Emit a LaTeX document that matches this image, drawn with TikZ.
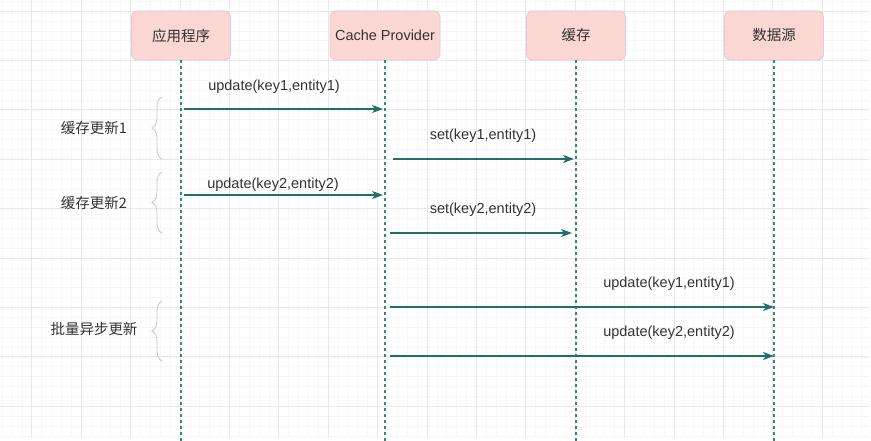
\documentclass[tikz,border=0pt]{standalone}
\usepackage{fontspec}
\setmainfont{Liberation Sans}
\newfontfamily\cjk{Noto Sans CJK SC}
\usetikzlibrary{arrows.meta,decorations.pathreplacing}
\definecolor{arrowc}{HTML}{1F6F6B}
\definecolor{lifec}{HTML}{3A857C}
\definecolor{boxfill}{HTML}{FAD7D3}
\definecolor{boxdraw}{HTML}{E0C8D8}
\definecolor{txt}{HTML}{333333}
\definecolor{bracec}{HTML}{C9C9D6}
\definecolor{majorg}{HTML}{E8E8E8}
\definecolor{minorg}{HTML}{F6F6F6}
\tikzset{
  actor/.style={draw=boxdraw, fill=boxfill, rounded corners=6pt, line width=0.8pt,
    minimum width=99pt, minimum height=49pt, inner sep=0pt, text=txt,
    font=\fontsize{14.5}{17}\selectfont},
  life/.style={draw=lifec, line width=1.6pt, dash pattern=on 3pt off 3pt},
  msg/.style={draw=arrowc, line width=1.3pt, -{Stealth[length=11pt,width=8pt,inset=3pt]}},
  lbl/.style={text=txt, inner sep=0pt, font=\fontsize{14.5}{17}\selectfont},
  grplbl/.style={text=txt, inner sep=0pt, font=\fontsize{14.5}{17}\selectfont\cjk},
  grpbrace/.style={draw=bracec, line width=0.9pt, decorate,
    decoration={brace, amplitude=10pt, aspect=0.5}},
  minorgrid/.style={draw=minorg, line width=0.5pt},
  majorgrid/.style={draw=majorg, line width=0.8pt}
}
\begin{document}
\begin{tikzpicture}[x=1pt,y=-1pt]
\useasboundingbox (0,0) rectangle (871,441);
\fill[white] (0,0) rectangle (871,441);
% grid
\foreach \k in {0,...,87} {\draw[minorgrid] ({2.06+\k*9.88},0) -- ({2.06+\k*9.88},437);}
\foreach \k in {0,...,44} {\draw[minorgrid] (0,{1.12+\k*9.88}) -- (869,{1.12+\k*9.88});}
\foreach \k in {0,...,17} {\draw[majorgrid] ({31.7+\k*49.4},0) -- ({31.7+\k*49.4},437);}
\foreach \k in {0,...,8} {\draw[majorgrid] (0,{11+\k*49.4}) -- (869,{11+\k*49.4});}

% actors
\node[actor] (app) at (181,35.5) {\cjk 应用程序};
\node[actor, minimum width=110pt] (cp) at (385,35.5) {Cache Provider};
\node[actor] (cache) at (576,35.5) {\cjk 缓存};
\node[actor] (ds) at (774,35.5) {\cjk 数据源};

% lifeline ends
\coordinate (appEnd) at (181,441);
\coordinate (cpEnd) at (385,441);
\coordinate (cacheEnd) at (576,441);
\coordinate (dsEnd) at (774,441);
\draw[life] (app.south) -- (appEnd);
\draw[life] (cp.south) -- (cpEnd);
\draw[life] (cache.south) -- (cacheEnd);
\draw[life] (ds.south) -- (dsEnd);

% message endpoints
\coordinate (m1s) at (184,109); \coordinate (m1e) at (383,109);
\coordinate (m2s) at (393,159); \coordinate (m2e) at (574,159);
\coordinate (m3s) at (184,195); \coordinate (m3e) at (383,195);
\coordinate (m4s) at (390,233); \coordinate (m4e) at (572,233);
\coordinate (m5s) at (390,307); \coordinate (m5e) at (774,307);
\coordinate (m6s) at (390,356); \coordinate (m6e) at (774,356);
\draw[msg] (m1s) -- (m1e);
\draw[msg] (m2s) -- (m2e);
\draw[msg] (m3s) -- (m3e);
\draw[msg] (m4s) -- (m4e);
\draw[msg] (m5s) -- (m5e);
\draw[msg] (m6s) -- (m6e);

% message labels
\node[lbl] (l1) at (274,87) {update(key1,entity1)};
\node[lbl] (l2) at (483,136) {set(key1,entity1)};
\node[lbl] (l3) at (273,185) {update(key2,entity2)};
\node[lbl] (l4) at (483,210) {set(key2,entity2)};
\node[lbl] (l5) at (669,284) {update(key1,entity1)};
\node[lbl] (l6) at (669,333) {update(key2,entity2)};

% group braces
\coordinate (b1b) at (162,159); \coordinate (b1t) at (162,97);
\coordinate (b2b) at (162,233); \coordinate (b2t) at (162,172);
\coordinate (b3b) at (162,361); \coordinate (b3t) at (162,301);
\draw[grpbrace] (b1b) -- (b1t);
\draw[grpbrace] (b2b) -- (b2t);
\draw[grpbrace] (b3b) -- (b3t);
\node[grplbl] (g1) at (94,128) {缓存更新1};
\node[grplbl] (g2) at (94,203) {缓存更新2};
\node[grplbl] (g3) at (94,329) {批量异步更新};
\end{tikzpicture}
\end{document}
